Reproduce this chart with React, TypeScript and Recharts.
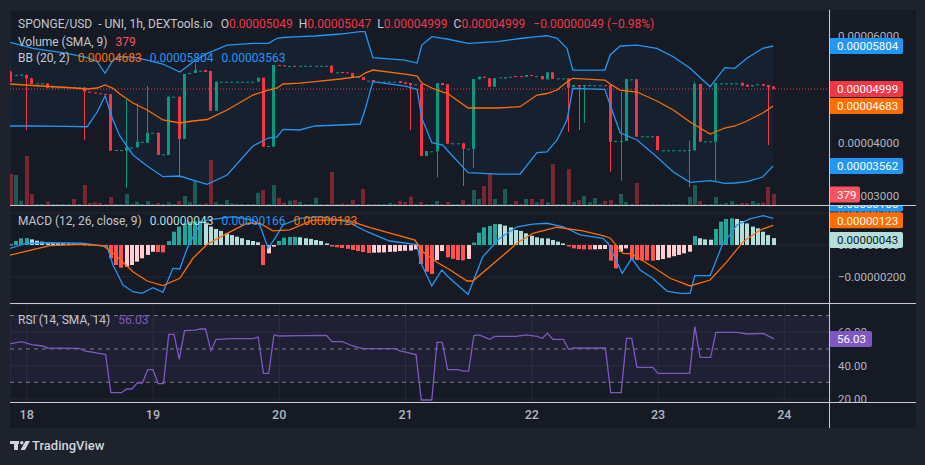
import React from 'react';
import {
  ComposedChart, Bar, Line, Area, XAxis, YAxis, CartesianGrid,
  ReferenceLine, ReferenceArea,
} from 'recharts';

// SPONGE/USD 1h. Hour 0 is the 18th 00:00, the first bar is hour -3.
const FIRST_HOUR = -3;

// [open, high, low, close], prices in 1e-8 USD
const candles: number[][] = [
  [5323, 5340, 5130, 5137], [5250, 5265, 5245, 5262], [5262, 5275, 5260, 5270], [5262, 5270, 4234, 5200], [5200, 5205, 5090, 5094],
  [5106, 5106, 5106, 5106], [5106, 5106, 5106, 5106], [5106, 5106, 5015, 5019], [5032, 5032, 5032, 5032], [5032, 5032, 5032, 5032],
  [5032, 5032, 5032, 5032], [5032, 5032, 5032, 5032], [5035, 5035, 5030, 5030], [5032, 5032, 5032, 5032], [5032, 5032, 4047, 4950],
  [4950, 4952, 4935, 4935], [4935, 4935, 4920, 4920], [4920, 4920, 4906, 4906], [4910, 4910, 4900, 4900], [4905, 4905, 3847, 3847],
  [3860, 3860, 3860, 3860], [3860, 3860, 3860, 3860], [3847, 4808, 3155, 3910], [3910, 3910, 3910, 3910], [3910, 4733, 3905, 4015],
  [4015, 4015, 4015, 4015], [3996, 5056, 3990, 4183], [4183, 4183, 4183, 4183], [4183, 4183, 3767, 3767], [3780, 3780, 3780, 3780],
  [3767, 4860, 3767, 4856], [4856, 4856, 4856, 4856], [4856, 4856, 3342, 4066], [4066, 5280, 4066, 5280], [5280, 5300, 5280, 5300],
  [5300, 5480, 5300, 5355], [5342, 5342, 5342, 5342], [5355, 5355, 5318, 5318], [5337, 5340, 4594, 4594], [4594, 5137, 4594, 5137],
  [5137, 5137, 5137, 5137], [5137, 5137, 5137, 5137], [5137, 5137, 5137, 5137], [5137, 5137, 5137, 5137], [5137, 5137, 5137, 5137],
  [5137, 5137, 5137, 5137], [5137, 5137, 5137, 5137], [5137, 5211, 5137, 5211], [5211, 5211, 3922, 3922], [3935, 3935, 3935, 3935],
  [3922, 5449, 3922, 5449], [5449, 5449, 5440, 5440], [5440, 5440, 5430, 5430], [5430, 5430, 5430, 5430], [5435, 5435, 5430, 5430],
  [5435, 5435, 5435, 5435], [5435, 5435, 5435, 5435], [5435, 5435, 5435, 5435], [5435, 5435, 5435, 5435], [5435, 5435, 5435, 5435],
  [5435, 5435, 5435, 5435], [5435, 5440, 5305, 5305], [5312, 5312, 5312, 5312], [5318, 5318, 5300, 5300], [5310, 5310, 5295, 5295],
  [5300, 5300, 5219, 5219], [5224, 5224, 5224, 5224], [5224, 5224, 5168, 5168], [5156, 5156, 5156, 5156], [5168, 5168, 5131, 5131],
  [5137, 5137, 5137, 5137], [5137, 5137, 5137, 5137], [5137, 5137, 5137, 5137], [5137, 5137, 5137, 5137], [5150, 5150, 5112, 5112],
  [5125, 5125, 5094, 5094], [5112, 5112, 4234, 5075], [5088, 5088, 5088, 5088], [5094, 5094, 3748, 3748], [3748, 3841, 3748, 3841],
  [3835, 3835, 3835, 3835], [3835, 5112, 3350, 5112], [5112, 5112, 5075, 5075], [5088, 5088, 3978, 3978], [3985, 3985, 3985, 3985],
  [3985, 3985, 3985, 3985], [3985, 3985, 3187, 3884], [3884, 3884, 3884, 3884], [3884, 5187, 3524, 5187], [5181, 5230, 5181, 5230],
  [5230, 5230, 5210, 5210], [5200, 5200, 5043, 5043], [5043, 5200, 5043, 5200], [5219, 5219, 5219, 5219], [5219, 5219, 5180, 5219],
  [5230, 5230, 5230, 5230], [5243, 5243, 5230, 5230], [5240, 5240, 5225, 5225], [5230, 5262, 5230, 5262], [5262, 5262, 5245, 5245],
  [5245, 5245, 5245, 5245], [5243, 5243, 5181, 5181], [5181, 5312, 5181, 5312], [5312, 5312, 5190, 5190], [5200, 5200, 5200, 5200],
  [5200, 5200, 5200, 5200], [5200, 5200, 4197, 5025], [5040, 5075, 5040, 5075], [5075, 5075, 4234, 5050], [5050, 5075, 4365, 5075],
  [5075, 5075, 5075, 5075], [5069, 5069, 5069, 5069], [5069, 5069, 5069, 5069], [5072, 5072, 5069, 5069], [5075, 5075, 3455, 4015],
  [4028, 4028, 4028, 4028], [4022, 4950, 3286, 4030], [4030, 5187, 4030, 5187], [5181, 5181, 5181, 5181], [5181, 5181, 4109, 4109],
  [4116, 4116, 4116, 4116], [4116, 4116, 4116, 4116], [4116, 4116, 4116, 4116], [4122, 4122, 3855, 3855], [3855, 3855, 3855, 3855],
  [3855, 3855, 3855, 3855], [3855, 3855, 3855, 3855], [3855, 3855, 3855, 3855], [3855, 3855, 3855, 3855], [3855, 4034, 3163, 3860],
  [3855, 5137, 3855, 5094], [5094, 5094, 4015, 4015], [4022, 4022, 4022, 4022], [4022, 4022, 4022, 4022], [4015, 5112, 3286, 5112],
  [5106, 5106, 5106, 5106], [5106, 5106, 5106, 5106], [5106, 5106, 5106, 5106], [5106, 5106, 5106, 5106], [5118, 5118, 5062, 5062],
  [5081, 5081, 5043, 5043], [5050, 5075, 5050, 5075], [5075, 5090, 5075, 5090], [5094, 5094, 5062, 5062], [5075, 5075, 3953, 5032],
  [5049, 5047, 4999, 4999],
];

const volumes: number[] = [
  1068, 1034, 148, 1688, 379, 35, 35, 114, 35, 35,
  35, 35, 207, 35, 689, 69, 93, 69, 35, 276,
  35, 35, 379, 35, 114, 35, 138, 35, 69, 35,
  86, 35, 138, 310, 90, 827, 35, 59, 1550, 93,
  35, 172, 59, 35, 35, 35, 35, 424, 517, 35,
  689, 251, 79, 148, 172, 114, 35, 35, 251, 35,
  35, 1137, 35, 59, 35, 172, 35, 551, 35, 35,
  35, 35, 69, 35, 138, 103, 286, 35, 103, 35,
  35, 138, 35, 103, 35, 35, 172, 35, 517, 207,
  655, 1092, 207, 35, 551, 35, 138, 35, 207, 207,
  93, 207, 93, 1412, 35, 35, 1240, 103, 172, 310,
  93, 241, 35, 138, 172, 35, 379, 103, 35, 758,
  35, 35, 35, 35, 35, 35, 35, 35, 35, 276,
  689, 138, 35, 35, 276, 35, 69, 138, 35, 69,
  69, 138, 69, 86, 620, 379,
];

// MACD histogram, 1e-8
const macdHist: number[] = [
  3, 25, 42, 43, 35, 27, 21, 17, 14, 12,
  10, 9, 8, 6, 3, -3, -5, -8, -10, -83,
  -125, -142, -135, -125, -104, -83, -62, -42, -44, -46,
  25, 83, 115, 135, 146, 148, 150, 135, 115, 100,
  88, 73, 62, 52, 42, 31, 25, 17, -125, -52,
  -10, 25, 46, 50, 51, 48, 42, 38, 31, 25,
  10, -10, -14, -19, -24, -31, -38, -44, -50, -48,
  -47, -46, -43, -42, -38, -36, -35, -27, -119, -167,
  -181, -94, -38, -77, -87, -94, -96, -87, 15, 77,
  110, 119, 131, 130, 121, 110, 94, 88, 73, 58,
  48, 42, 41, 31, 21, 10, -10, -21, -25, -27,
  -28, -27, -26, -25, -98, -146, -42, -21, -88, -94,
  -96, -97, -98, -94, -88, -79, -70, -62, -52, -42,
  56, 42, 35, 33, 100, 146, 163, 167, 163, 150,
  135, 115, 104, 83, 62, 43,
];

// [hour, value]
const macdPoints: number[][] = [
  [-3.2, -21], [0, 11], [4.4, 14], [10.7, 11], [14, -4], [15.3, -10], [16.4, -125], [18.3, -250],
  [20.2, -292], [21.9, -302], [24, -267], [25.9, -296], [27.8, -146], [29.1, -150], [30.5, -21],
  [33, 136], [34.3, 156], [39.2, 177], [43, 156], [44.3, 125], [45.9, -21], [47.6, 63], [48.7, 125],
  [51.9, 167], [55.7, 177], [60.9, 146], [64.7, 83], [67.7, 42], [69, 25], [74.2, 2], [74.8, -104],
  [77, -256], [78.9, -156], [80.1, -198], [83.9, -308], [86.7, -73], [89.9, 42], [93.2, 114],
  [96.2, 131], [98.9, 136], [102, 114], [105.2, 63], [109.5, 42], [110.5, 11], [113.2, -177],
  [115, -83], [116.6, -156], [119, -208], [121.7, -288], [124.2, -302], [126.1, -302], [127, -192],
  [129.9, -192], [132.2, 0], [135, 125], [137.5, 163], [140, 183], [141.9, 166],
];

const signalPoints: number[][] = [
  [-3.2, -63], [0, -38], [4.4, -4], [10.7, 4], [14.5, -4], [16.4, -50], [20.2, -167], [22.9, -225],
  [25.9, -254], [29.1, -208], [31.6, -83], [34.3, 4], [38.1, 73], [41.9, 136], [44.3, 136], [46.8, 88],
  [50, 94], [54.4, 156], [60.9, 156], [65.3, 108], [73.8, 31], [75.3, -42], [78, -108], [80.5, -156],
  [83.7, -225], [84.8, -225], [89.9, -83], [93.2, 11], [96.2, 73], [100.8, 111], [105.7, 88],
  [109.5, 58], [110.9, 44], [113.3, -52], [115, -56], [119, -136], [122.3, -208], [126.1, -256],
  [129.9, -219], [133.1, -104], [136.2, 21], [139.4, 94], [141.9, 123],
];

const rsiPoints: number[][] = [
  [-3.2, 53], [-1, 54.4], [1, 52.6], [3, 51.8], [4, 50.6], [10, 50.4], [11, 48.8], [13, 47.8],
  [15, 46.6], [16, 23.8], [18, 23.8], [19, 26], [20, 26], [21, 29.6], [22, 29.6], [23, 37.6],
  [24, 37.6], [25, 29.2], [26, 29.2], [27, 58.8], [28, 58.8], [29, 43.8], [30, 61], [32, 61.3],
  [33, 62], [34, 62], [35, 49], [36, 55.8], [39, 56.2], [43, 56.2], [44, 57.2], [45, 35.4],
  [46, 35.4], [47, 58.4], [48, 57.8], [52, 58], [57, 58.2], [58, 54.4], [60, 54.4], [62, 51.8],
  [63, 51], [64, 50.2], [70, 50.2], [71, 48.8], [74, 46.6], [75, 19.4], [77, 19.4], [78, 54],
  [79, 54], [80, 37.6], [82, 37.6], [83, 36.7], [84, 36.7], [85, 58], [86, 58.4], [88, 55.8],
  [89, 57.6], [93, 57.6], [95, 58.4], [97, 57.6], [98, 56.4], [99, 59.4], [100, 55.8], [102, 55.8],
  [103, 49.8], [104, 50.6], [110, 50.6], [111, 23.8], [113, 23.8], [114, 56.4], [115, 56.4],
  [116, 39], [119, 39], [120, 35.4], [126, 35.4], [127, 63.4], [128, 45], [130, 45], [131, 60],
  [135, 60], [137, 59], [140, 59.4], [142, 56.03],
];

// Bollinger (20, 2): [hour, upper, basis, lower]
const bbPoints: number[][] = [
  [-3.2, 5873, 5094, 4309], [1.2, 5761, 5066, 4309], [7.7, 5667, 5028, 4303], [11.5, 5585, 5000, 4295],
  [13.4, 5510, 5019, 4570], [14.9, 5294, 5075, 4869], [16.4, 5542, 5013, 4421], [17.7, 5604, 4907, 4122],
  [20.2, 5598, 4738, 3767], [22.9, 5542, 4608, 3561], [25.9, 5467, 4421, 3361], [29.1, 5318, 4365, 3374],
  [31.6, 5505, 4402, 3299], [34.3, 5667, 4430, 3219], [38.1, 5822, 4608, 3393], [43, 5854, 4888, 3935],
  [45.9, 5854, 4981, 4084], [47.6, 5948, 5019, 4103], [48.7, 5963, 5094, 4247], [51.9, 5978, 5112, 4234],
  [54.8, 5991, 5140, 4309], [59.6, 6028, 5187, 4327], [63.4, 6071, 5234, 4346], [64.3, 6071, 5299, 4608],
  [65.8, 5585, 5355, 5137], [71.9, 5542, 5280, 5056], [74.2, 5486, 5243, 4994], [75.1, 5822, 5112, 4458],
  [77, 5978, 5019, 3996], [79.1, 5948, 4944, 3953], [79.9, 5935, 4925, 3860], [83.9, 5854, 4645, 3436],
  [89.4, 5884, 4645, 3411], [93.8, 5944, 4669, 3411], [97, 5981, 4888, 3810], [98.9, 5996, 4916, 3823],
  [100.8, 5948, 4981, 4047], [102.7, 5761, 5131, 4421], [103.8, 5355, 5200, 5013], [109.9, 5355, 5168, 4994],
  [110.9, 5636, 5094, 4701], [112.8, 5804, 4981, 4183], [116, 5822, 4944, 4047], [119.8, 5761, 4776, 3729],
  [122.9, 5604, 4608, 3449], [126.1, 5387, 4383, 3256], [129.9, 5043, 4159, 3286], [132.7, 5398, 4271, 3238],
  [134.6, 5387, 4309, 3243], [136.9, 5574, 4402, 3267], [139.9, 5761, 4552, 3355], [141.9, 5804, 4683, 3563],
];

const dayTicks = [0, 24, 48, 72, 96, 120, 144];
const dayLabels = ['18', '19', '20', '21', '22', '23', '24'];
const priceTicks = [3000, 4000, 5000, 6000];
const macdTicks = [-200, 0, 200];
const rsiTicks = [20, 40, 60];
const rsiLevels = [70, 50, 30];

const FONT = 'Roboto, "Noto Sans", sans-serif';
const PAGE_BG = '#1e222d';
const BG = '#161a25';
const GRID = '#242833';
const TEXT = '#b2b5be';
const LABEL = '#c3c6ce';
const SEP = '#c8cad1';
const UP = '#089981';
const DOWN = '#f23645';
const BLUE = '#2196f3';
const ORANGE = '#ff6d00';
const PURPLE = '#7e57c2';

const FRAME_W = 906;
const AXIS_W = 86;
const X_DOMAIN: [number, number] = [-3.174, 152.69];
const PRICE_DOMAIN: [number, number] = [2832, 6477];
const VOL_DOMAIN: [number, number] = [0, 6720];
const MACD_DOMAIN: [number, number] = [-362.5, 243.75];
const RSI_DOMAIN: [number, number] = [18.2, 76.98];
const NO_MARGIN = { top: 0, right: 0, bottom: 0, left: 0 };

const bars = candles.map(([o, hi, lo, c], i) => ({
  h: FIRST_HOUR + i, o, hi, lo, c, vol: volumes[i], hist: macdHist[i],
}));
const bands = bbPoints.map(([h, u, m, l]) => ({ h, u, m, l }));
const macdData = macdPoints.map(([h, v]) => ({ h, v }));
const signalData = signalPoints.map(([h, v]) => ({ h, v }));
const rsiData = rsiPoints.map(([h, v]) => ({ h, v }));

const last = bars[bars.length - 1];
const lastBand = bands[bands.length - 1];
const lastMacd = macdData[macdData.length - 1].v;
const lastSignal = signalData[signalData.length - 1].v;
const lastHist = macdHist[macdHist.length - 1];
const lastRsi = rsiData[rsiData.length - 1].v;

const fmt8 = (v: number) => (v < 0 ? '\u2212' : '') + (Math.abs(v) / 1e8).toFixed(8);

const histColor = (i: number) => {
  const v = macdHist[i];
  const prev = i > 0 ? macdHist[i - 1] : v + 1;
  if (v >= 0) return v > prev ? '#26a69a' : '#b2dfdb';
  return v < prev ? '#ff5252' : '#ffcdd2';
};

const candleRange = (d: any) => [Math.min(d.lo, d.o, d.c), Math.max(d.hi, d.o, d.c)];

const CandleShape = (props: any) => {
  const { x, y, width, height, payload } = props;
  if (!payload || x == null || y == null) return null;
  const { o, hi, lo, c } = payload;
  const top = Math.max(hi, o, c);
  const bottom = Math.min(lo, o, c);
  const yTop = Math.min(y, y + (height || 0));
  const span = Math.abs(height || 0);
  const k = top > bottom ? span / (top - bottom) : 0;
  const yOf = (v: number) => yTop + (top - v) * k;
  const color = c >= o ? UP : DOWN;
  const bx = Math.round(x + width / 2 - 1.5);
  const bodyTop = yOf(Math.max(o, c));
  const bodyH = Math.max(1, yOf(Math.min(o, c)) - bodyTop);
  return (
    <g>
      {span > 0 && <rect x={bx + 1} y={yTop} width={1} height={span} fill={color} />}
      <rect x={bx} y={bodyTop} width={3} height={bodyH} fill={color} />
    </g>
  );
};

// 4px column centred on the bar slot, coloured from the bar itself
const columnShape = (colorOf: (b: any) => string, opacity = 1) => (props: any) => {
  const { x, y, width, height, payload } = props;
  if (!payload || x == null || y == null) return null;
  const top = Math.min(y, y + (height || 0));
  const h = Math.max(Math.abs(height || 0), 0.8);
  return (
    <rect x={Math.round(x + width / 2 - 2)} y={top} width={4} height={h}
      fill={colorOf(payload)} fillOpacity={opacity} />
  );
};

const volumeShape = columnShape((b) => (b.c >= b.o ? '#22ab94' : DOWN), 0.45);
const histShape = columnShape((b) => histColor(b.h - FIRST_HOUR));

// price-scale marker: a filled tag at the right edge of the plot
const axisBox = (text: string, bg: string, color = '#ffffff', shift = 0, width = 74) =>
  (props: any) => {
    const vb = props.viewBox || {};
    const x = (vb.x ?? 0) + (vb.width ?? 0) - 1;
    const y = (vb.y ?? 0) + shift;
    return (
      <g>
        <rect x={x} y={y - 8} width={width} height={16} rx={2} fill={bg} />
        <text x={x + 8} y={y + 4.2} fill={color} fontSize={11.5} fontFamily={FONT}>{text}</text>
      </g>
    );
  };

const tickStyle = { fill: TEXT, fontSize: 11.5, fontFamily: FONT };

const xAxis = (height = 0, labels = false) => (
  <XAxis
    dataKey="h" type="number" domain={X_DOMAIN} allowDataOverflow ticks={dayTicks}
    tick={labels ? { fill: TEXT, fontSize: 12.5, fontFamily: FONT, fontWeight: 500 } : false}
    tickFormatter={(h: number) => dayLabels[dayTicks.indexOf(h)] ?? ''}
    tickLine={false} axisLine={false} height={height}
  />
);

const Legend = ({ top, children }: { top: number; children: React.ReactNode }) => (
  <div style={{
    position: 'absolute', left: 8, top, fontFamily: FONT, fontSize: 12, lineHeight: '18px',
    color: LABEL, whiteSpace: 'pre', zIndex: 5,
  }}>
    {children}
  </div>
);

const Sep = ({ style }: { style: React.CSSProperties }) => (
  <div style={{ position: 'absolute', background: SEP, zIndex: 4, ...style }} />
);

const layer = (top: number): React.CSSProperties => ({ position: 'absolute', left: 0, top });

const App = () => (
  <div style={{ position: 'absolute', left: 0, top: 0, width: 925, height: 465, background: PAGE_BG, overflow: 'hidden' }}>
    <div style={{ position: 'absolute', left: 10, top: 10, width: FRAME_W, height: 418, background: BG }}>

      {/* price pane: grid, band fill, volume */}
      <div style={layer(0)}>
        <ComposedChart width={FRAME_W} height={195} data={bars} margin={NO_MARGIN}>
          <CartesianGrid stroke={GRID} />
          {xAxis()}
          <YAxis orientation="right" width={AXIS_W} domain={PRICE_DOMAIN} allowDataOverflow ticks={priceTicks}
            tick={false} tickLine={false} axisLine={false} />
          <YAxis yAxisId="vol" hide domain={VOL_DOMAIN} allowDataOverflow />
          <Area data={bands} dataKey={(d: any) => [d.l, d.u]} stroke="none" fill={BLUE} fillOpacity={0.055}
            isAnimationActive={false} />
          <Bar yAxisId="vol" dataKey="vol" barSize={4} shape={volumeShape} isAnimationActive={false} />
        </ComposedChart>
      </div>

      {/* price pane: candles and bands */}
      <div style={layer(0)}>
        <ComposedChart width={FRAME_W} height={195} data={bars} margin={NO_MARGIN}>
          {xAxis()}
          <YAxis orientation="right" width={AXIS_W} domain={PRICE_DOMAIN} allowDataOverflow ticks={priceTicks}
            tickFormatter={fmt8} tick={tickStyle} tickLine={false} axisLine={false} />
          <ReferenceLine y={last.c} stroke={DOWN} strokeDasharray="1 2" />
          <Bar dataKey={candleRange} barSize={3} shape={CandleShape} isAnimationActive={false} />
          <Line data={bands} dataKey="u" stroke={BLUE} strokeWidth={1.3} dot={false} isAnimationActive={false} />
          <Line data={bands} dataKey="l" stroke={BLUE} strokeWidth={1.3} dot={false} isAnimationActive={false} />
          <Line data={bands} dataKey="m" stroke={ORANGE} strokeWidth={1.3} dot={false} isAnimationActive={false} />
        </ComposedChart>
      </div>

      {/* price pane: scale tags */}
      <div style={layer(0)}>
        <ComposedChart width={FRAME_W} height={195} data={bars} margin={NO_MARGIN}>
          {xAxis()}
          <YAxis orientation="right" width={AXIS_W} domain={PRICE_DOMAIN} allowDataOverflow ticks={priceTicks}
            tick={false} tickLine={false} axisLine={false} />
          <YAxis yAxisId="vol" hide domain={VOL_DOMAIN} allowDataOverflow />
          <ReferenceLine y={lastBand.u} stroke="none" label={axisBox(fmt8(lastBand.u), BLUE)} />
          <ReferenceLine y={last.c} stroke="none" label={axisBox(fmt8(last.c), DOWN)} />
          <ReferenceLine y={lastBand.m} stroke="none" label={axisBox(fmt8(lastBand.m), ORANGE)} />
          <ReferenceLine y={lastBand.l} stroke="none" label={axisBox('0.00003562', BLUE)} />
          <ReferenceLine yAxisId="vol" y={last.vol} stroke="none" label={axisBox(String(last.vol), '#f7525f', '#ffffff', 0.5, 31)} />
        </ComposedChart>
      </div>

      {/* MACD pane */}
      <div style={layer(196)}>
        <ComposedChart width={FRAME_W} height={97} data={bars} margin={NO_MARGIN}>
          <CartesianGrid stroke={GRID} />
          {xAxis()}
          <YAxis orientation="right" width={AXIS_W} domain={MACD_DOMAIN} allowDataOverflow ticks={macdTicks}
            tickFormatter={fmt8} tick={tickStyle} tickLine={false} axisLine={false} />
          <Bar dataKey="hist" barSize={4} shape={histShape} isAnimationActive={false} />
          <Line data={macdData} dataKey="v" stroke={BLUE} strokeWidth={1.3} dot={false} isAnimationActive={false} />
          <Line data={signalData} dataKey="v" stroke={ORANGE} strokeWidth={1.3} dot={false} isAnimationActive={false} />
        </ComposedChart>
      </div>
      <div style={layer(196)}>
        <ComposedChart width={FRAME_W} height={97} data={bars} margin={NO_MARGIN}>
          {xAxis()}
          <YAxis orientation="right" width={AXIS_W} domain={MACD_DOMAIN} allowDataOverflow ticks={macdTicks}
            tick={false} tickLine={false} axisLine={false} />
          <ReferenceLine y={lastMacd} stroke="none" label={axisBox(fmt8(lastMacd), BLUE, '#ffffff', -15)} />
          <ReferenceLine y={lastSignal} stroke="none" label={axisBox(fmt8(lastSignal), ORANGE, '#ffffff', -5)} />
          <ReferenceLine y={lastHist} stroke="none" label={axisBox(fmt8(lastHist), '#b2dfdb', '#131722', 2)} />
        </ComposedChart>
      </div>

      {/* RSI pane with the time scale */}
      <div style={layer(294)}>
        <ComposedChart width={FRAME_W} height={124} data={rsiData} margin={NO_MARGIN}>
          <CartesianGrid stroke={GRID} />
          {xAxis(26, true)}
          <YAxis orientation="right" width={AXIS_W} domain={RSI_DOMAIN} allowDataOverflow ticks={rsiTicks}
            tickFormatter={(v: number) => v.toFixed(2)} tick={tickStyle} tickLine={false} axisLine={false} />
          <ReferenceArea y1={30} y2={70} fill={PURPLE} fillOpacity={0.1} stroke="none" />
          {rsiLevels.map((v) => (
            <ReferenceLine key={v} y={v} stroke="#787b86" strokeDasharray="4 4" />
          ))}
          <Line dataKey="v" stroke={PURPLE} strokeWidth={1.3} dot={false} isAnimationActive={false} />
        </ComposedChart>
      </div>
      <div style={layer(294)}>
        <ComposedChart width={FRAME_W} height={124} data={rsiData} margin={NO_MARGIN}>
          {xAxis(26, false)}
          <YAxis orientation="right" width={AXIS_W} domain={RSI_DOMAIN} allowDataOverflow ticks={rsiTicks}
            tick={false} tickLine={false} axisLine={false} />
          <ReferenceLine y={lastRsi} stroke="none" label={axisBox(lastRsi.toFixed(2), PURPLE, '#ffffff', 0, 43)} />
        </ComposedChart>
      </div>

      <Sep style={{ left: 0, top: 195, width: FRAME_W, height: 1 }} />
      <Sep style={{ left: 0, top: 293, width: FRAME_W, height: 1 }} />
      <Sep style={{ left: 0, top: 392, width: FRAME_W, height: 1 }} />
      <Sep style={{ left: 819, top: 0, width: 1, height: 418 }} />

      <Legend top={5}>
        <span>SPONGE/USD  - UNI, 1h, DEXTools.io</span>
        <span style={{ marginLeft: 8 }}>O<span style={{ color: DOWN }}>{fmt8(last.o)}</span></span>
        <span style={{ marginLeft: 6 }}>H<span style={{ color: DOWN }}>{fmt8(last.hi)}</span></span>
        <span style={{ marginLeft: 6 }}>L<span style={{ color: DOWN }}>{fmt8(last.lo)}</span></span>
        <span style={{ marginLeft: 6 }}>C<span style={{ color: DOWN }}>{fmt8(last.c)}</span></span>
        <span style={{ marginLeft: 8, color: DOWN }}>{'\u22120.00000049 (\u22120.98%)'}</span>
      </Legend>
      <Legend top={23}>
        <span>Volume (SMA, 9)</span>
        <span style={{ marginLeft: 8, color: '#f7525f' }}>{last.vol}</span>
      </Legend>
      <Legend top={39}>
        <span>BB (20, 2)</span>
        <span style={{ marginLeft: 8, color: ORANGE }}>{fmt8(lastBand.m)}</span>
        <span style={{ marginLeft: 8, color: BLUE }}>{fmt8(lastBand.u)}</span>
        <span style={{ marginLeft: 8, color: BLUE }}>{fmt8(lastBand.l)}</span>
      </Legend>
      <Legend top={202}>
        <span>MACD (12, 26, close, 9)</span>
        <span style={{ marginLeft: 8, color: '#b2dfdb' }}>{fmt8(lastHist)}</span>
        <span style={{ marginLeft: 8, color: BLUE }}>{fmt8(lastMacd)}</span>
        <span style={{ marginLeft: 8, color: ORANGE }}>{fmt8(lastSignal)}</span>
      </Legend>
      <Legend top={301}>
        <span>RSI (14, SMA, 14)</span>
        <span style={{ marginLeft: 8, color: PURPLE }}>{lastRsi.toFixed(2)}</span>
      </Legend>
    </div>

    {/* footer logo */}
    <svg width={22} height={10} style={{ position: 'absolute', left: 10, top: 441 }}>
      <path d="M0 0H9V3H8V9H4V3H0Z" fill="#d1d4dc" />
      <circle cx={11.8} cy={1.8} r={1.8} fill="#d1d4dc" />
      <path d="M15.5 0H20L15 9H10.5Z" fill="#d1d4dc" />
    </svg>
    <div style={{
      position: 'absolute', left: 32, top: 437, fontFamily: FONT, fontSize: 13, fontWeight: 500,
      color: '#d1d4dc', lineHeight: '18px',
    }}>
      TradingView
    </div>
  </div>
);

export default App;
